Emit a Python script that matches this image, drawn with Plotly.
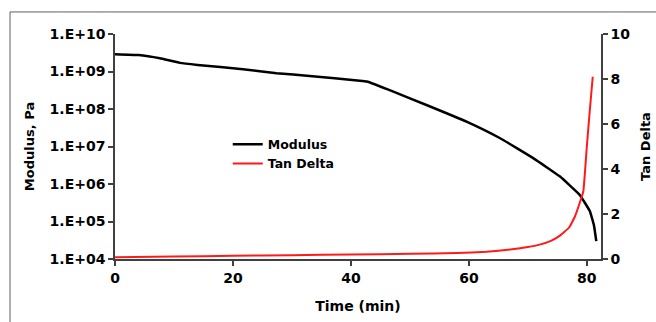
import plotly.graph_objects as go

time_mod = [0, 4, 7.6, 11, 14, 21.7, 27.4, 33, 41.5, 42.7, 47.2, 52.8, 59.6, 65.3, 70.9, 75.4, 78.8, 80.5, 81.2, 81.6]
modulus = [2.9e9, 2.75e9, 2.25e9, 1.7e9, 1.5e9, 1.15e9, 9.0e8, 7.6e8, 5.7e8, 5.4e8, 2.9e8, 1.28e8,
           4.6e7, 1.66e7, 4.9e6, 1.6e6, 5.1e5, 1.9e5, 8e4, 3e4]

time_tan = [0, 10, 20, 30, 40, 50, 58, 63, 67, 70, 72, 74, 75.5, 77, 78, 78.8, 79.4, 80, 80.5, 81]
tan_delta = [0.08, 0.11, 0.14, 0.17, 0.2, 0.23, 0.27, 0.32, 0.42, 0.53, 0.64, 0.82, 1.05, 1.4, 1.9,
             2.5, 3.0, 5.0, 6.6, 8.1]

y_tickvals = [1e4, 1e5, 1e6, 1e7, 1e8, 1e9, 1e10]
y_ticktext = ["1.E+04", "1.E+05", "1.E+06", "1.E+07", "1.E+08", "1.E+09", "1.E+10"]
x_tickvals = [0, 20, 40, 60, 80]
y2_tickvals = [0, 2, 4, 6, 8, 10]

FONT = "DejaVu Sans"
AX = "#404040"

fig = go.Figure()
fig.add_trace(go.Scatter(x=time_mod, y=modulus, mode="lines", name="<b>Modulus</b>",
                         line=dict(color="black", width=2.5, shape="spline", smoothing=0.3)))
fig.add_trace(go.Scatter(x=time_tan, y=tan_delta, mode="lines", name="<b>Tan Delta</b>", yaxis="y2",
                         line=dict(color="#ff1a1a", width=2, shape="spline", smoothing=0.3)))

fig.update_layout(
    width=656, height=322,
    margin=dict(l=115, r=55, t=34, b=63),
    paper_bgcolor="white", plot_bgcolor="white",
    font=dict(family=FONT, size=14, color="black"),
    showlegend=True,
    legend=dict(x=0.232, y=0.575, xanchor="left", yanchor="top", bgcolor="rgba(0,0,0,0)",
                font=dict(size=12.5, family=FONT), itemwidth=30, tracegroupgap=0),
    xaxis=dict(range=[0, 82.4], tickvals=x_tickvals, ticktext=[f"<b>{v}</b>" for v in x_tickvals],
               showgrid=False, zeroline=False, showline=True, linecolor=AX, linewidth=1.5,
               ticks="outside", ticklen=5, tickcolor=AX, tickwidth=1.5, automargin=False,
               title=dict(text="<b>Time (min)</b>", standoff=17, font=dict(size=14))),
    yaxis=dict(type="log", range=[4, 10], tickvals=y_tickvals, ticktext=[f"<b>{t}</b>" for t in y_ticktext],
               showgrid=False, zeroline=False, showline=True, linecolor=AX, linewidth=1.5,
               ticks="outside", ticklen=5, tickcolor=AX, tickwidth=1.5, automargin=False,
               title=dict(text="<b>Modulus, Pa</b>", standoff=12, font=dict(size=13))),
    yaxis2=dict(overlaying="y", side="right", range=[0, 10], tickvals=y2_tickvals,
                ticktext=[f"<b>{v}</b>" for v in y2_tickvals],
                showgrid=False, zeroline=False, showline=True, linecolor=AX, linewidth=1.5,
                ticks="outside", ticklen=5, tickcolor=AX, tickwidth=1.5, automargin=False,
                title=dict(text="<b>Tan Delta</b>", standoff=12, font=dict(size=13))),
)

# outer frame (top and left edges visible)
fig.add_shape(type="line", xref="paper", yref="paper", x0=-0.216, x1=1.2, y0=1.098, y1=1.098,
              line=dict(color="#606060", width=1))
fig.add_shape(type="line", xref="paper", yref="paper", x0=-0.216, x1=-0.216, y0=1.098, y1=-0.3,
              line=dict(color="#606060", width=1))

fig.write_html("out.html", config={"displayModeBar": False})

with open("out.html", "r", encoding="utf-8") as f:
    html = f.read()
html = html.replace("<head>", "<head><style>html,body{margin:0;padding:0;overflow:hidden;}</style>", 1)
with open("out.html", "w", encoding="utf-8") as f:
    f.write(html)
